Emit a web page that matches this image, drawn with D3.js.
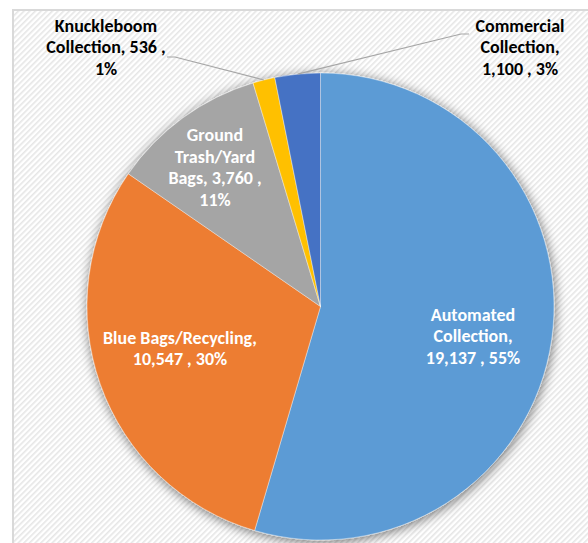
<!DOCTYPE html>
<html>
<head>
<meta charset="utf-8">
<script src="https://cdn.jsdelivr.net/npm/d3@7"></script>
<style>
  html, body { margin: 0; padding: 0; background: #ffffff; }
  svg { display: block; }
  text { font-family: Carlito, Lato, "Open Sans", sans-serif; font-weight: 700; }
</style>
</head>
<body>
<svg id="chart" width="588" height="543"></svg>
<script>
// Collection tonnage by service type
const categories = [
  "Automated Collection",
  "Blue Bags/Recycling",
  "Ground Trash/Yard Bags",
  "Knuckleboom Collection",
  "Commercial Collection"
];
const values = [19137, 10547, 3760, 536, 1100];
const colors = ["#5B9BD5", "#ED7D31", "#A5A5A5", "#FFC000", "#4472C4"];

// How many words of each label go on each line
const labelBreaks = [[1, 1, 3], [2, 3], [1, 1, 3, 1], [1, 3, 1], [1, 1, 3]];
// Label anchors (centre of the text block), and whether a leader line is drawn
const labelLayout = [
  { x: 473, y: 336, inside: true },
  { x: 180, y: 348, inside: true },
  { x: 215, y: 167, inside: true },
  { x: 106, y: 47, inside: false, lineFrom: [167, 57] },
  { x: 520, y: 47, inside: false, lineFrom: [469, 34] }
];

const width = 588, height = 543;
const cx = 320.5, cy = 306.5, radius = 233.5;
const lineH = 21.5;

const svg = d3.select("#chart");
const defs = svg.append("defs");

// Diagonal hatch for the chart area
const pat = defs.append("pattern")
  .attr("id", "hatch")
  .attr("patternUnits", "userSpaceOnUse")
  .attr("width", 4).attr("height", 4)
  .attr("patternTransform", "rotate(45)");
pat.append("rect").attr("width", 4).attr("height", 4).attr("fill", "#ffffff");
pat.append("rect").attr("x", 0).attr("width", 1.6).attr("height", 4).attr("fill", "#e6e6e6");

// Soft outer shadow around the pie
const flt = defs.append("filter").attr("id", "pieShadow")
  .attr("x", "-20%").attr("y", "-20%").attr("width", "140%").attr("height", "140%");
flt.append("feGaussianBlur").attr("in", "SourceAlpha").attr("stdDeviation", 6).attr("result", "blur");
flt.append("feOffset").attr("in", "blur").attr("dx", 1).attr("dy", 2).attr("result", "off");
flt.append("feComponentTransfer").attr("in", "off").attr("result", "shadow")
  .append("feFuncA").attr("type", "linear").attr("slope", 0.55);
const merge = flt.append("feMerge");
merge.append("feMergeNode").attr("in", "shadow");
merge.append("feMergeNode").attr("in", "SourceGraphic");

// Chart area
svg.append("rect")
  .attr("x", 13).attr("y", 10)
  .attr("width", width).attr("height", height)
  .attr("fill", "url(#hatch)")
  .attr("stroke", "#d9d9d9").attr("stroke-width", 2);

const data = categories.map((c, i) => ({ category: c, value: values[i], color: colors[i], i }));
const total = d3.sum(values);

// Whole-number percentages that add up to 100 (largest remainder)
const raw = values.map(v => v / total * 100);
const pcts = raw.map(Math.floor);
let short = 100 - d3.sum(pcts);
d3.range(values.length)
  .sort((a, b) => (raw[b] - pcts[b]) - (raw[a] - pcts[a]))
  .slice(0, short)
  .forEach(i => { pcts[i] += 1; });

const pie = d3.pie().value(d => d.value).sort(null).startAngle(0).endAngle(2 * Math.PI);
const arcs = pie(data);
const arc = d3.arc().innerRadius(0).outerRadius(radius);

const g = svg.append("g").attr("transform", `translate(${cx},${cy})`);
g.append("g").attr("filter", "url(#pieShadow)")
  .selectAll("path")
  .data(arcs)
  .join("path")
  .attr("d", arc)
  .attr("fill", d => d.data.color)
  .attr("stroke", "#ffffff")
  .attr("stroke-width", 0.4);

// Leader lines from outside labels to the slice edge
const fmt = d3.format(",");
arcs.forEach((a, i) => {
  const lay = labelLayout[i];
  if (lay.inside) return;
  const mid = (a.startAngle + a.endAngle) / 2;
  const ex = cx + radius * Math.sin(mid);
  const ey = cy - radius * Math.cos(mid);
  const [sx, sy] = lay.lineFrom;
  const dir = ex > sx ? 1 : -1;
  svg.append("path")
    .attr("d", d3.line()([[sx, sy], [sx + dir * 8, sy], [ex, ey]]))
    .attr("fill", "none")
    .attr("stroke", "#a6a6a6")
    .attr("stroke-width", 1.2);
});

// Data labels: "Category, value , percent%"
arcs.forEach((a, i) => {
  const lay = labelLayout[i];
  const words = `${a.data.category}, ${fmt(a.data.value)} , ${pcts[i]}%`.split(" ");
  const lines = [];
  let k = 0;
  labelBreaks[i].forEach(n => { lines.push(words.slice(k, k + n).join(" ")); k += n; });
  const t = svg.append("text")
    .attr("text-anchor", "middle")
    .attr("font-size", 18)
    .attr("fill", lay.inside ? "#ffffff" : "#000000");
  const y0 = lay.y - (lines.length - 1) * lineH / 2;
  lines.forEach((ln, j) => {
    t.append("tspan")
      .attr("x", lay.x)
      .attr("y", y0 + j * lineH)
      .attr("dy", "0.35em")
      .text(ln);
  });
});
</script>
</body>
</html>
